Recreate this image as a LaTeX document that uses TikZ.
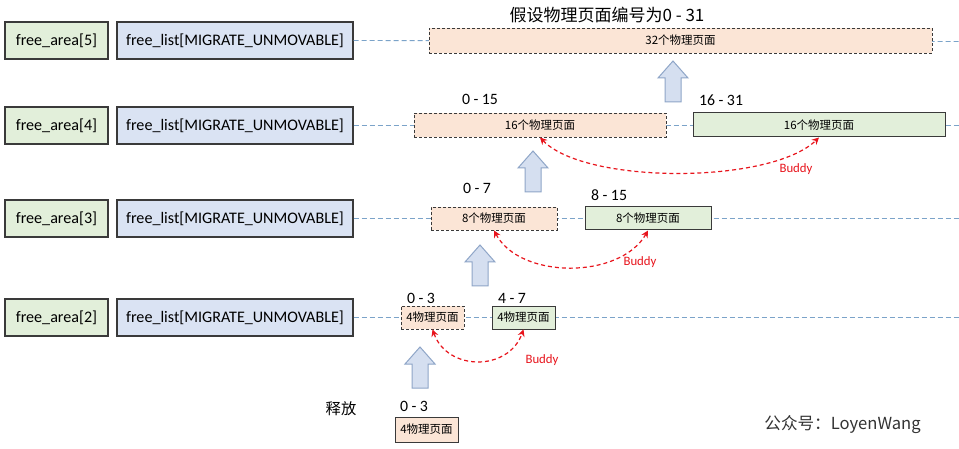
\documentclass[tikz,border=0pt]{standalone}
\usepackage{fontspec}
\setmainfont{Carlito}
\newfontfamily\cjk{Noto Sans CJK SC}
\usetikzlibrary{arrows.meta}
\definecolor{gfill}{HTML}{E2EFDA}
\definecolor{bfill}{HTML}{DAE3F3}
\definecolor{ofill}{HTML}{FBE5D6}
\definecolor{guidec}{HTML}{7BA3C9}
\definecolor{arrfill}{HTML}{D5DFF0}
\definecolor{arrdraw}{HTML}{8FA6C8}
\definecolor{buddyc}{HTML}{E8141C}
\definecolor{bordc}{HTML}{3A3A3A}
\tikzset{
  areabox/.style={draw=bordc, line width=1.1pt, fill=gfill, minimum width=103pt, minimum height=37pt, inner sep=0pt, font=\fontsize{16.1}{18}\selectfont},
  listbox/.style={draw=bordc, line width=1.1pt, fill=bfill, minimum width=236pt, minimum height=37pt, inner sep=0pt, font=\fontsize{16.1}{18}\selectfont},
  freebox/.style={draw=bordc, line width=0.9pt, dash pattern=on 3pt off 2pt, fill=ofill, inner sep=0pt, font=\cjk\fontsize{11.5}{13}\selectfont},
  usedbox/.style={draw=bordc, line width=1pt, fill=gfill, inner sep=0pt, font=\cjk\fontsize{11.5}{13}\selectfont},
  relbox/.style={draw=bordc, line width=1pt, fill=ofill, inner sep=0pt, font=\cjk\fontsize{11.5}{13}\selectfont},
  rangelbl/.style={font=\fontsize{15.8}{18}\selectfont, inner sep=0pt},
  guide/.style={draw=guidec, line width=0.9pt, dash pattern=on 5pt off 3pt},
  buddy/.style={draw=buddyc, line width=1.2pt, dash pattern=on 4pt off 3pt, {Stealth[length=7pt,width=7pt]}-{Stealth[length=7pt,width=7pt]}},
  buddylbl/.style={text=buddyc, font=\fontsize{12.8}{15}\selectfont, inner sep=0pt},
  uparrow/.pic={\draw[draw=arrdraw, fill=arrfill, line width=1pt, line join=miter]
     (-8,0) -- (-8,-24) -- (-15,-24) -- (0,-41) -- (15,-24) -- (8,-24) -- (8,0) -- cycle;}
}
\begin{document}
\begin{tikzpicture}[x=1pt,y=-1pt]
\useasboundingbox[fill=white] (0,0) rectangle (959,449);

% left column
\node[areabox] (fa5) at (56.5,40.5) {free\_area[5]};
\node[listbox] (fl5) at (235,40.5) {free\_list[MIGRATE\_UNMOVABLE]};
\node[areabox] (fa4) at (56.5,125.5) {free\_area[4]};
\node[listbox] (fl4) at (235,125.5) {free\_list[MIGRATE\_UNMOVABLE]};
\node[areabox] (fa3) at (56.5,218.5) {free\_area[3]};
\node[listbox] (fl3) at (235,218.5) {free\_list[MIGRATE\_UNMOVABLE]};
\node[areabox] (fa2) at (56.5,317.5) {free\_area[2]};
\node[listbox] (fl2) at (235,317.5) {free\_list[MIGRATE\_UNMOVABLE]};

% right ends of guide lines
\coordinate (e5) at (959,41.5);
\coordinate (e4) at (959,125.5);
\coordinate (e3) at (959,218.5);
\coordinate (e2) at (959,317.5);

% guide lines (behind boxes)
\path[guide] (fl5.east) -- (e5);
\path[guide] (fl4.east) -- (e4);
\path[guide] (fl3.east) -- (e3);
\path[guide] (fl2.east) -- (e2);

% page blocks
\node[freebox, minimum width=503pt, minimum height=25pt] (b32) at (680.5,40.5) {32个物理页面};
\node[freebox, minimum width=252pt, minimum height=24pt] (b16a) at (540,125) {16个物理页面};
\node[usedbox, minimum width=252pt, minimum height=24pt] (b16b) at (819,125) {16个物理页面};
\node[freebox, minimum width=126pt, minimum height=23pt] (b8a) at (494,218.5) {8个物理页面};
\node[usedbox, minimum width=126pt, minimum height=23pt] (b8b) at (648,218.5) {8个物理页面};
\node[freebox, minimum width=63pt, minimum height=23pt] (b4a) at (432.5,317.5) {4物理页面};
\node[usedbox, minimum width=63pt, minimum height=23pt] (b4b) at (523.5,317.5) {4物理页面};
\node[relbox, minimum width=63pt, minimum height=25pt] (b4c) at (426.5,429.5) {4物理页面};

% labels
\node[font=\cjk\fontsize{17}{20}\selectfont, inner sep=0pt] (title) at (607,15) {假设物理页面编号为0 - 31};
\node[rangelbl] (r015) at (480,99) {0 - 15};
\node[rangelbl] (r1631) at (721,100) {16 - 31};
\node[rangelbl] (r07) at (477,188) {0 - 7};
\node[rangelbl] (r815) at (609,195) {8 - 15};
\node[rangelbl] (r03) at (421,298) {0 - 3};
\node[rangelbl] (r47) at (512,298) {4 - 7};
\node[rangelbl] (r03b) at (414,406) {0 - 3};
\node[font=\cjk\fontsize{15.3}{18}\selectfont, inner sep=0pt] (rel) at (341,409) {释放};
\node[font=\cjk\fontsize{16.6}{19}\selectfont, text=black!80, inner sep=0pt] (wm) at (842.5,425) {公众号：LoyenWang};

% up arrows
\pic at (673,102) {uparrow};
\pic at (533,192) {uparrow};
\pic at (480,286) {uparrow};
\pic at (420,388) {uparrow};

% buddy curves
\draw[buddy] (b16a.south) .. controls +(45,47) and +(-49,47) .. (b16b.south);
\draw[buddy] (b8a.south) .. controls +(26,49) and +(-28,49) .. (b8b.south);
\draw[buddy] (b4a.south) .. controls +(15,42) and +(-15,42) .. (b4b.south);
\node[buddylbl] (bd4) at (796,169) {Buddy};
\node[buddylbl] (bd3) at (640,262) {Buddy};
\node[buddylbl] (bd2) at (542,360) {Buddy};
\end{tikzpicture}
\end{document}
